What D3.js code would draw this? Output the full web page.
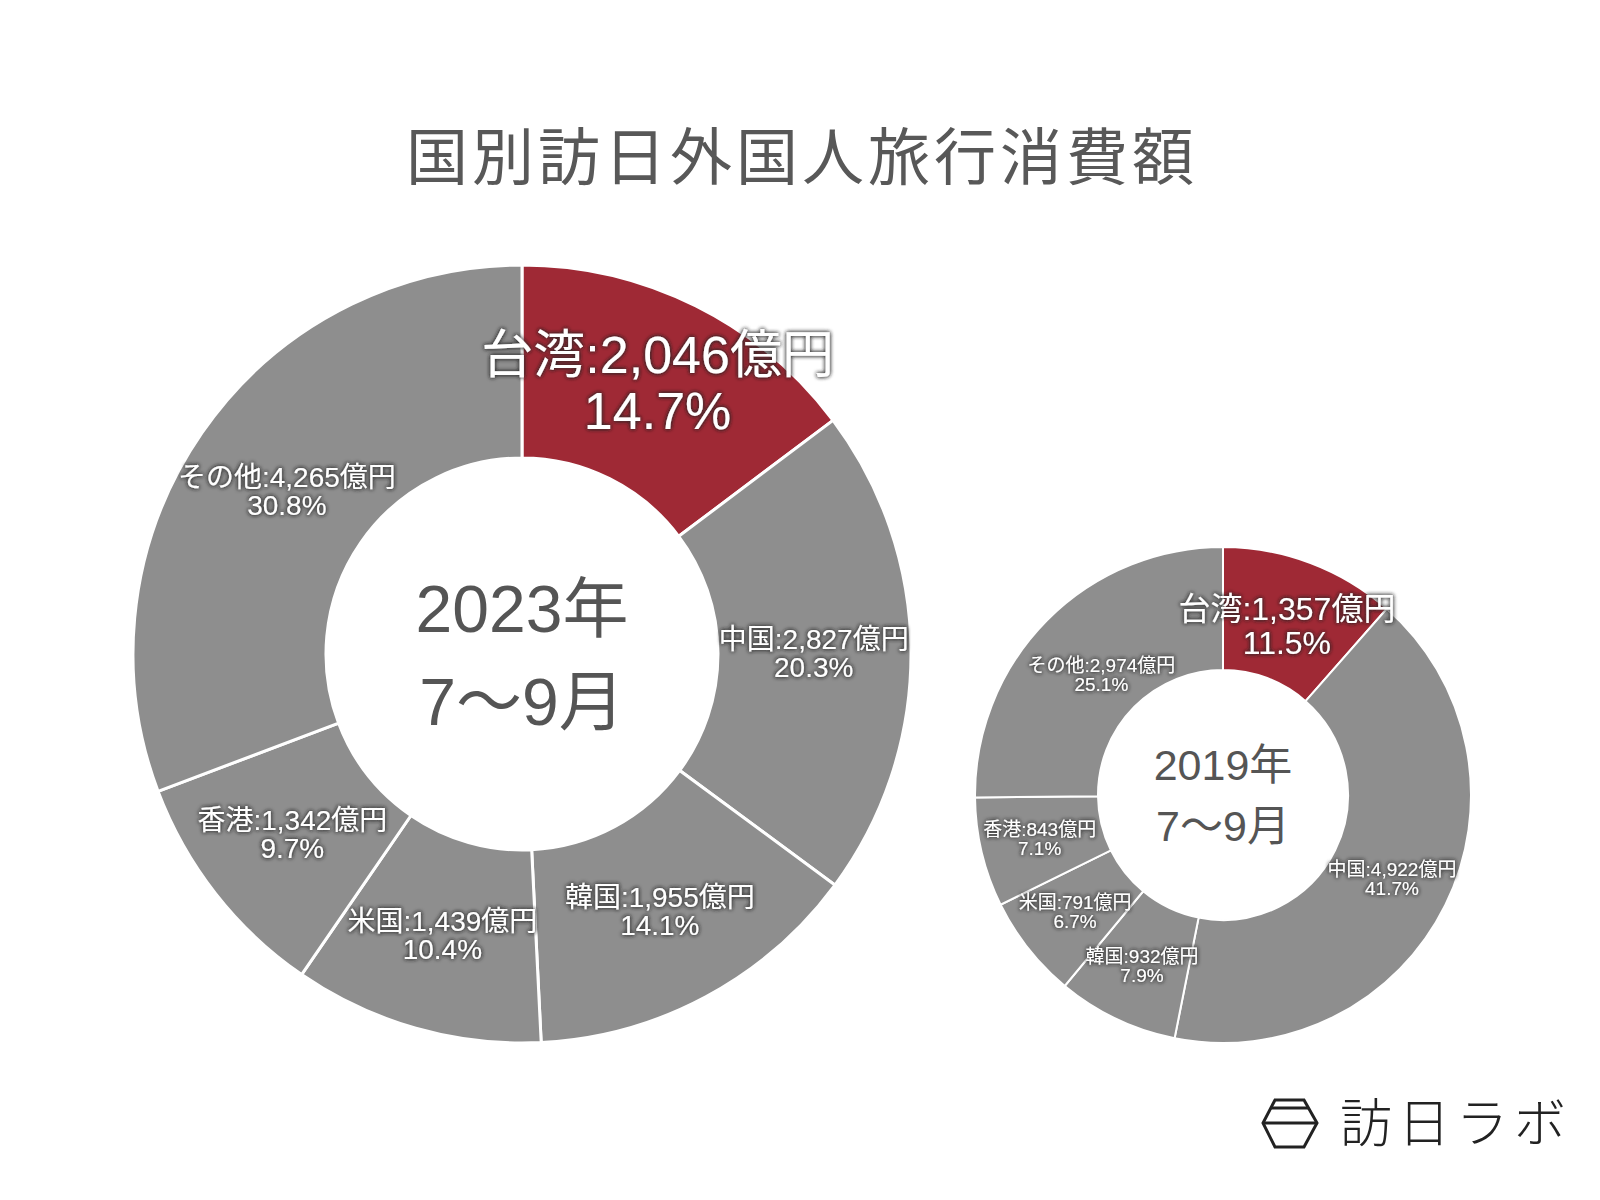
<!DOCTYPE html>
<html><head><meta charset="utf-8">
<script src="https://cdn.jsdelivr.net/npm/d3@7"></script>
<style>
html,body{margin:0;padding:0;background:#fff;}
svg{display:block;font-family:"Liberation Sans","Noto Sans CJK JP",sans-serif;}
</style></head>
<body>
<svg id="c" width="1600" height="1200"></svg>
<script>
const titleText = "国別訪日外国人旅行消費額";
const categories = ["台湾", "中国", "韓国", "米国", "香港", "その他"];
const values2023 = [2046, 2827, 1955, 1439, 1342, 4265];
const percents2023 = ["14.7%", "20.3%", "14.1%", "10.4%", "9.7%", "30.8%"];
const values2019 = [1357, 4922, 932, 791, 843, 2974];
const percents2019 = ["11.5%", "41.7%", "7.9%", "6.7%", "7.1%", "25.1%"];
const centerLabels2023 = ["2023年", "7〜9月"];
const centerLabels2019 = ["2019年", "7〜9月"];
const highlight = "台湾";
const unit = "億円";

const svg = d3.select("#c");
const defs = svg.append("defs");
const f = defs.append("filter").attr("id", "glow").attr("x", "-20%").attr("y", "-40%").attr("width", "140%").attr("height", "180%");
f.append("feGaussianBlur").attr("in", "SourceAlpha").attr("stdDeviation", 2.2).attr("result", "b");
f.append("feFlood").attr("flood-color", "#2a2a2a").attr("flood-opacity", 0.85);
f.append("feComposite").attr("in2", "b").attr("operator", "in").attr("result", "s");
const fm = f.append("feMerge");
fm.append("feMergeNode").attr("in", "s");
fm.append("feMergeNode").attr("in", "s");
fm.append("feMergeNode").attr("in", "SourceGraphic");

svg.append("text").attr("x", 802).attr("y", 180).attr("text-anchor", "middle")
  .attr("font-family", "'Noto Sans CJK JP',sans-serif")
  .attr("font-size", 62).attr("fill", "#585858").attr("letter-spacing", 4)
  .text(titleText);

const fmt = d3.format(",");

function donut(cfg) {
  const g = svg.append("g").attr("transform", `translate(${cfg.cx},${cfg.cy})`);
  const data = categories.map((c, i) => ({cat: c, value: cfg.values[i], pct: cfg.percents[i]}));
  const pie = d3.pie().sort(null).value(d => d.value).startAngle(0).endAngle(2 * Math.PI);
  const arcs = pie(data);
  const arc = d3.arc().innerRadius(cfg.r0).outerRadius(cfg.r1);
  g.selectAll("path.s").data(arcs).join("path").attr("class", "s")
    .attr("d", arc)
    .attr("fill", d => d.data.cat === highlight ? "#9f2935" : "#8e8e8e")
    .attr("stroke", "#fff").attr("stroke-width", cfg.sw);
  arcs.forEach(a => {
    const hl = a.data.cat === highlight;
    const ratio = hl ? cfg.hlRatio : (cfg.ratios[a.data.cat] || cfg.lRatio);
    const lr = cfg.r1 * ratio;
    const [x, y] = d3.arc().innerRadius(lr).outerRadius(lr).centroid(a);
    const fs = hl ? cfg.hlSize : cfg.lSize;
    const lh = fs * (hl ? 1.07 : 1.0);
    const t = g.append("text").attr("text-anchor", "middle").attr("fill", "#fff")
      .attr("font-size", fs).attr("filter", "url(#glow)");
    t.append("tspan").attr("x", x).attr("y", y - lh / 2 + fs * 0.36)
      .text(a.data.cat + ":" + fmt(a.data.value) + unit);
    t.append("tspan").attr("x", x).attr("y", y + lh / 2 + fs * 0.36).text(a.data.pct);
  });
  cfg.center.forEach((s, i) => {
    g.append("text").attr("text-anchor", "middle").attr("fill", "#555")
      .attr("font-size", cfg.cSize).attr("x", 0)
      .attr("y", cfg.cLines[i] + cfg.cSize * 0.36).text(s);
  });
}

donut({cx: 522, cy: 654, r0: 196, r1: 389, sw: 3, values: values2023, percents: percents2023,
  hlRatio: 0.78, lRatio: 0.75, ratios: {"その他": 0.735}, hlSize: 52, lSize: 28,
  center: centerLabels2023, cSize: 66, cLines: [-46, 47]});
donut({cx: 1223, cy: 795, r0: 125, r1: 248, sw: 2, values: values2019, percents: percents2019,
  hlRatio: 0.73, lRatio: 0.76, ratios: {"その他": 0.69}, hlSize: 32, lSize: 19,
  center: centerLabels2019, cSize: 43, cLines: [-30, 31]});

// logo
const logo = svg.append("g").attr("fill", "none").attr("stroke", "#222").attr("stroke-width", 3).attr("stroke-linejoin", "miter");
logo.append("path").attr("d", "M1275,1100 L1304,1100 L1317,1123 L1304,1147 L1275,1147 L1263,1123 Z");
logo.append("path").attr("d", "M1271,1108 L1308,1108 M1263,1123 L1317,1123");
svg.append("text").attr("x", 1340).attr("y", 1142).attr("font-size", 52).attr("fill", "#222")
  .attr("font-family", "'Noto Sans CJK JP',sans-serif")
  .attr("font-weight", 300).attr("letter-spacing", 6).text("訪日ラボ");
</script>
</body></html>
